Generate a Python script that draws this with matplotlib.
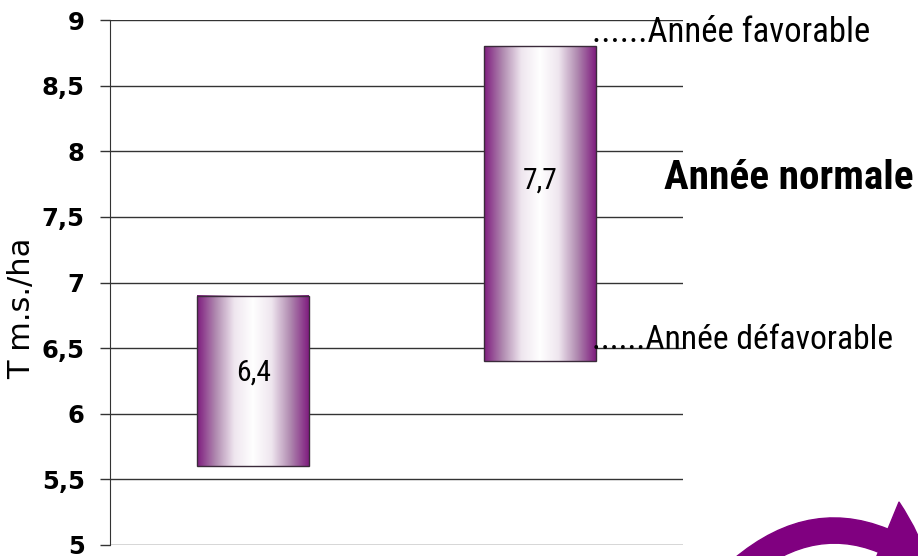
import matplotlib
matplotlib.use("Agg")
import matplotlib.pyplot as plt
import numpy as np
from matplotlib import font_manager as fm
from matplotlib.colors import LinearSegmentedColormap
from matplotlib.patches import FancyArrowPatch, Rectangle
from matplotlib.transforms import IdentityTransform

categories = ["A", "B"]
bar_low = [5.6, 6.4]
bar_high = [6.9, 8.8]
bar_labels = ["6,4", "7,7"]
yticks = [5, 5.5, 6, 6.5, 7, 7.5, 8, 8.5, 9]
ytick_labels = ["5", "5,5", "6", "6,5", "7", "7,5", "8", "8,5", "9"]
notes = ["......Année favorable", "Année normale", "......Année défavorable"]

W, H = 918, 556
fig = plt.figure(figsize=(W / 100, H / 100), dpi=100)
ax = fig.add_axes([110 / W, (H - 545) / H, (683 - 110) / W, (545 - 20) / H])
ax.set_xlim(-0.5, 1.5)
ax.set_ylim(5, 9)
ax.set_yticks(yticks)
ax.set_yticklabels(ytick_labels, fontsize=17.5, fontweight="bold")
ax.set_xticks([])
ax.tick_params(axis="y", length=7.2, width=1, color="#333333", pad=11)
for s in ["top", "right", "bottom"]:
    ax.spines[s].set_visible(False)
ax.spines["left"].set_color("#333333")
for v in yticks:
    ax.axhline(v, color="#333333", lw=1, zorder=1)
ax.set_ylabel("T m.s./ha", fontsize=22, va="center", ha="center")
ax.yaxis.set_label_coords((22 - 110) / 573, (545 - 308) / 525)

available = {f.name for f in fm.fontManager.ttflist}
narrow_candidates = ["Liberation Sans Narrow", "Roboto Condensed", "Open Sans Condensed",
                     "Arial Narrow", "Liberation Sans"]
narrow = [f for f in narrow_candidates if f in available] + ["DejaVu Sans"]

renderer = fig.canvas.get_renderer()


def fit_text(x, y, s, target_w, size0, **kw):
    t = fig.text(x / W, 1 - y / H, s, fontsize=size0, va="center", ha="left", family=narrow, **kw)
    w = t.get_window_extent(renderer).width
    t.set_fontsize(size0 * target_w / w)
    return t


cmap = LinearSegmentedColormap.from_list(
    "pw", ["#7f1d7f", "#b08ab0", "#efe6ef", "#ffffff", "#efe6ef", "#b08ab0", "#7f1d7f"])
grad = np.linspace(0, 1, 256).reshape(1, -1)
bw = 0.39
label_offsets = [0.06, 0.18]
for i, (lo, hi, lab) in enumerate(zip(bar_low, bar_high, bar_labels)):
    ax.imshow(grad, cmap=cmap, aspect="auto", extent=[i - bw / 2, i + bw / 2, lo, hi],
              zorder=3, interpolation="bicubic")
    ax.add_patch(Rectangle((i - bw / 2, lo), bw, hi - lo, fill=False,
                           edgecolor="#3a2a3a", lw=1.0, zorder=4))
    t = ax.text(i, (lo + hi) / 2 + label_offsets[i], lab, ha="center", va="center",
                fontsize=20, zorder=5, family=narrow)
    w = t.get_window_extent(renderer).width
    t.set_fontsize(20 * 35 / w)
ax.set_xlim(-0.5, 1.5)
ax.set_ylim(5, 9)

fit_text(592, 33, notes[0], 278, 20)
fit_text(664, 178, notes[1], 249, 22, fontweight="bold")
fit_text(592, 340, notes[2], 301, 20)

arrow = FancyArrowPatch((729, H - 580), (933, H - 571), connectionstyle="arc3,rad=-0.44",
                        arrowstyle="simple,head_width=3.0,head_length=2.0,tail_width=0.9",
                        mutation_scale=20, color="#800080", transform=IdentityTransform(),
                        clip_on=False)
fig.add_artist(arrow)

fig.savefig("out.png", dpi=100)
